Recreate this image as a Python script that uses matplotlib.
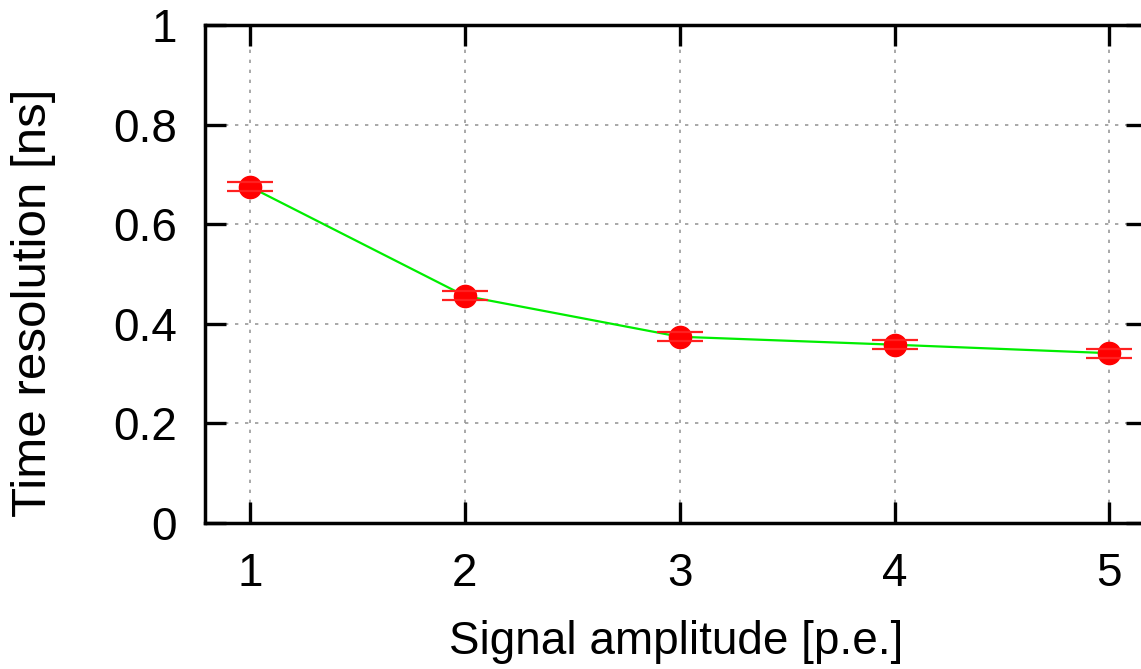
import matplotlib
matplotlib.use("Agg")
import matplotlib.pyplot as plt

amplitude = [1, 2, 3, 4, 5]
resolution = [0.675, 0.456, 0.374, 0.358, 0.341]
res_err = [0.009, 0.009, 0.009, 0.009, 0.009]
xticks = [1, 2, 3, 4, 5]
yticks = [0, 0.2, 0.4, 0.6, 0.8, 1.0]
yticklabels = ["0", "0.2", "0.4", "0.6", "0.8", "1"]

plt.rcParams['font.family'] = ['Liberation Sans', 'DejaVu Sans']

fig = plt.figure(figsize=(11.41, 6.69), dpi=100)
ax = fig.add_axes([205/1141, 1-523/669, (1147-205)/1141, (523-25)/669])

ax.plot(amplitude, resolution, color='#00ee00', lw=1.6, zorder=2)
ax.plot(amplitude, resolution, 'o', color='#ff0000', ms=16, zorder=3)
ax.errorbar(amplitude, resolution, yerr=res_err, fmt='none', ecolor='#ff2020',
            elinewidth=0, capsize=16.5, capthick=1.6, zorder=4)

ax.set_xlim(0.79, 5.175)
ax.set_ylim(0, 1)
ax.set_xticks(xticks)
ax.set_yticks(yticks)
ax.set_yticklabels(yticklabels)
ax.grid(True, color='#999999', linestyle=(0, (2, 4)), linewidth=1.2)
ax.tick_params(direction='in', length=15, width=2.4, top=True, right=True,
               labelsize=33)
ax.tick_params(axis='y', pad=20)
ax.tick_params(axis='x', pad=21)
for s in ax.spines.values():
    s.set_linewidth(2.5)

ax.set_xlabel("Signal amplitude [p.e.]", fontsize=33, labelpad=17)
ax.set_ylabel("Time resolution [ns]", fontsize=35.5, labelpad=38)
ax.yaxis.set_label_coords(-0.158, 0.442)

fig.savefig("out.png", dpi=100)
